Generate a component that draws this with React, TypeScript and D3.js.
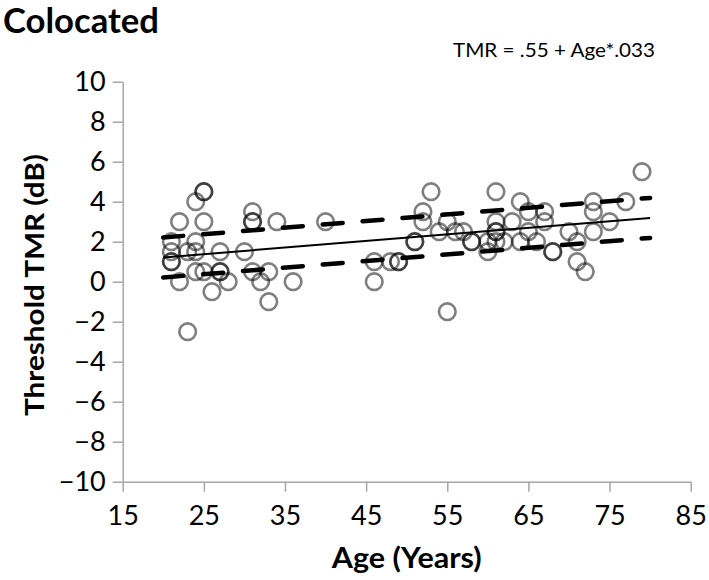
import React, { useEffect, useRef } from 'react';
import * as d3 from 'd3';

// age (years) and threshold TMR (dB) per listener
const ages = [25, 25, 24, 22, 25, 31, 31, 31, 34, 40, 21, 24, 21, 23, 24, 27, 30, 21, 21, 22, 24, 25, 26, 27, 27, 28, 31, 32, 33, 33, 36, 23,
  46, 46, 48, 49, 49, 51, 51, 52, 52, 53, 54, 55, 56, 57, 55, 58, 58, 60, 60, 61, 61, 61, 61, 61, 62, 63, 64, 64, 65, 65, 66, 67, 67, 68, 68,
  70, 71, 71, 72, 73, 73, 73, 75, 77, 79];
const tmrs = [4.5, 4.5, 4, 3, 3, 3.5, 3, 3, 3, 3, 2, 2, 1.5, 1.5, 1.5, 1.5, 1.5, 1, 1, 0, 0.5, 0.5, -0.5, 0.5, 0.5, 0, 0.5, 0, 0.5, -1, 0, -2.5,
  1, 0, 1, 1, 1, 2, 2, 3.5, 3, 4.5, 2.5, 3, 2.5, 2.5, -1.5, 2, 2, 1.5, 2, 4.5, 3, 2.5, 2.5, 2, 2, 3, 4, 2, 3.5, 2.5, 2, 3.5, 3, 1.5, 1.5,
  2.5, 2, 1, 0.5, 4, 3.5, 2.5, 3, 4, 5.5];

// fitted line and +/- band end points
const fitAges = [20, 80];
const fitLine = [1.21, 3.19];
const bandUpper = [2.21, 4.19];
const bandLower = [0.21, 2.19];

const xTicks = [15, 25, 35, 45, 55, 65, 75, 85];
const yTicks = [10, 8, 6, 4, 2, 0, -2, -4, -6, -8, -10];

const W = 709;
const H = 580;
const font = 'Lato, "Open Sans", sans-serif';

export default function App() {
  const ref = useRef<SVGSVGElement>(null);

  useEffect(() => {
    const svg = d3.select(ref.current);
    svg.selectAll('*').remove();

    const x = d3.scaleLinear().domain([15, 85]).range([122.7, 690.7]);
    const y = d3.scaleLinear().domain([-10, 10]).range([481.7, 81.7]);

    // axes
    const gx = svg.append('g').attr('transform', `translate(0,${y(-10)})`)
      .call(d3.axisBottom(x).tickValues(xTicks).tickSize(10).tickPadding(14).tickSizeOuter(0));
    const gy = svg.append('g').attr('transform', `translate(${x(15)},0)`)
      .call(d3.axisLeft(y).tickValues(yTicks).tickSize(10).tickPadding(7).tickSizeOuter(0));
    [gx, gy].forEach(g => {
      g.select('.domain').attr('stroke', '#a6a6a6').attr('stroke-width', 1.5);
      g.selectAll('.tick line').attr('stroke', '#a6a6a6').attr('stroke-width', 1.5);
      g.selectAll('.tick text').attr('fill', '#000').style('font-family', font).style('font-size', '27px');
    });
    gx.selectAll('.tick text').attr('dy', '0.72em');

    // points
    svg.append('g').selectAll('circle')
      .data(ages.map((a, i) => [a, tmrs[i]]))
      .join('circle')
      .attr('cx', d => x(d[0]))
      .attr('cy', d => y(d[1]))
      .attr('r', 8.3)
      .attr('fill', 'none')
      .attr('stroke', '#000')
      .attr('stroke-opacity', 0.5)
      .attr('stroke-width', 2.6);

    const line = d3.line<number>().x((_, i) => x(fitAges[i])).y(d => y(d));
    svg.append('path').attr('d', line(fitLine)).attr('stroke', '#000').attr('stroke-width', 2).attr('fill', 'none');
    [bandUpper, bandLower].forEach(b => {
      svg.append('path').attr('d', line(b)).attr('stroke', '#000').attr('stroke-width', 4.5)
        .attr('stroke-dasharray', '20 20').attr('stroke-linecap', 'round').attr('fill', 'none');
    });

    // labels
    svg.append('text').attr('x', 3).attr('y', 33).text('Colocated')
      .attr('textLength', 156).attr('lengthAdjust', 'spacingAndGlyphs')
      .style('font-family', font).style('font-size', '34px').style('font-weight', 'bold');
    svg.append('text').attr('x', 453).attr('y', 57).text('TMR = .55 + Age*.033')
      .attr('textLength', 202).attr('lengthAdjust', 'spacingAndGlyphs')
      .style('font-family', font).style('font-size', '20px');
    svg.append('text').attr('x', (x(15) + x(85)) / 2).attr('y', 568).attr('text-anchor', 'middle')
      .attr('textLength', 150).attr('lengthAdjust', 'spacingAndGlyphs')
      .text('Age (Years)').style('font-family', font).style('font-size', '28px').style('font-weight', 'bold');
    svg.append('text').attr('transform', `translate(44,285) rotate(-90)`).attr('text-anchor', 'middle')
      .attr('textLength', 262).attr('lengthAdjust', 'spacingAndGlyphs')
      .text('Threshold TMR (dB)').style('font-family', font).style('font-size', '27px').style('font-weight', 'bold');
  }, []);

  return <svg ref={ref} width={W} height={H} style={{ position: 'absolute', left: 0, top: 0, background: '#fff' }} />;
}
